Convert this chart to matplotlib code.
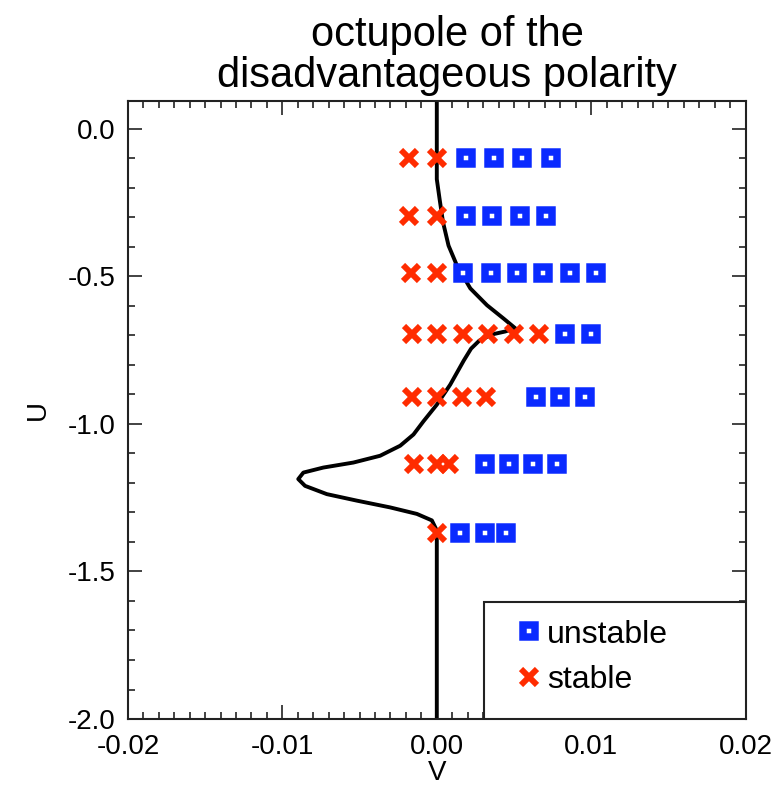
import numpy as np
import matplotlib
matplotlib.use("Agg")
from matplotlib import pyplot as plt
from matplotlib.patches import Rectangle
from matplotlib.ticker import MultipleLocator

plt.rcParams['font.family'] = ['Liberation Sans', 'DejaVu Sans']

# rows of runs (U value) with the V positions of stable / unstable cases
row_u = [-0.10, -0.295, -0.49, -0.695, -0.91, -1.135, -1.37]
stable_v = [
    [-0.0018, 0.0],
    [-0.0018, 0.0],
    [-0.0017, 0.0],
    [-0.0016, 0.0, 0.0017, 0.0033, 0.0050, 0.0066],
    [-0.0016, 0.0, 0.0016, 0.0032],
    [-0.0015, 0.0, 0.0008],
    [0.0],
]
unstable_v = [
    [0.0019, 0.0037, 0.0055, 0.0074],
    [0.0019, 0.0036, 0.0054, 0.0071],
    [0.0017, 0.0035, 0.0052, 0.0069, 0.0086, 0.0103],
    [0.0083, 0.0100],
    [0.0064, 0.0080, 0.0096],
    [0.0031, 0.0047, 0.0062, 0.0078],
    [0.0015, 0.0031, 0.0045],
]

# boundary curve
curve_v = [0.0, 0.0, 0.0, 0.00018, 0.0004, 0.00076, 0.0013, 0.00217,
           0.00325, 0.00432, 0.00508, 0.00443, 0.00357, 0.00275, 0.00222,
           0.00175, 0.00087, 0.0, -0.00086, -0.00151, -0.00237, -0.00367,
           -0.0054, -0.00735, -0.00864, -0.00897, -0.00853, -0.00712,
           -0.00518, -0.00302, -0.00129, -0.00032, 0.0, 0.0, 0.0]
curve_u = [0.093, -0.036, -0.171, -0.238, -0.316, -0.396, -0.463, -0.541,
           -0.598, -0.643, -0.676, -0.687, -0.697, -0.718, -0.745, -0.785,
           -0.867, -0.935, -0.991, -1.036, -1.074, -1.108, -1.131, -1.148,
           -1.165, -1.187, -1.21, -1.238, -1.26, -1.283, -1.305, -1.327,
           -1.361, -1.417, -2.0]

blue = '#0a2aff'
red = '#ff2c00'

fig = plt.figure(figsize=(7.8, 7.88), dpi=100)
ax = fig.add_axes([0.164, 0.0875, 0.792, 0.784])

ax.plot(curve_v, curve_u, color='black', lw=2.8, zorder=2,
        solid_joinstyle='round', solid_capstyle='round')

su_x, su_y, st_x, st_y = [], [], [], []
for u, sv, uv in zip(row_u, stable_v, unstable_v):
    st_x += sv
    st_y += [u] * len(sv)
    su_x += uv
    su_y += [u] * len(uv)

ax.plot(su_x, su_y, ls='none', marker='s', ms=8.5, mew=5.4,
        mfc='white', mec=blue, zorder=3, label='unstable')
ax.plot(st_x, st_y, ls='none', marker='x', ms=11, mew=4.3,
        color=red, zorder=3, label='stable')

ax.set_xlim(-0.02, 0.02)
ax.set_ylim(-2.0, 0.093)
ax.xaxis.set_major_locator(MultipleLocator(0.01))
ax.xaxis.set_minor_locator(MultipleLocator(0.001))
ax.yaxis.set_major_locator(MultipleLocator(0.5))
ax.yaxis.set_minor_locator(MultipleLocator(0.1))
ax.set_xticks([-0.02, -0.01, 0.0, 0.01, 0.02])
ax.set_xticklabels(['-0.02', '-0.01', '0.00', '0.01', '0.02'])
ax.set_yticks([0.0, -0.5, -1.0, -1.5, -2.0])
ax.set_yticklabels(['0.0', '-0.5', '-1.0', '-1.5', '-2.0'])
ax.tick_params(which='both', direction='in', top=True, right=True,
               width=1.2, labelsize=20, color='#222222')
ax.tick_params(which='major', length=10, pad=9)
ax.tick_params(axis='x', which='major', pad=11)
ax.tick_params(which='minor', length=5)
for s in ax.spines.values():
    s.set_linewidth(1.5)
    s.set_color('#222222')

ax.set_xlabel('V', fontsize=20, labelpad=0)
ax.set_ylabel('U', fontsize=20, labelpad=12)

# legend box sits in the lower right corner of the axes
ax.add_patch(Rectangle((0.577, 0.0), 0.423, 0.19, transform=ax.transAxes,
                       facecolor='white', edgecolor='#222222', lw=1.5,
                       zorder=4))
leg = ax.legend(loc='upper left', bbox_to_anchor=(0.629, 0.161),
                frameon=False, fontsize=23, handlelength=0.8,
                handletextpad=0.15, labelspacing=0.48, borderpad=0,
                borderaxespad=0, markerscale=1)
leg.set_zorder(5)

fig.text(0.573, 0.981, 'octupole of the\ndisadvantageous polarity',
         ha='center', va='top', fontsize=30, linespacing=1.03)

fig.savefig('out.png', dpi=100)
